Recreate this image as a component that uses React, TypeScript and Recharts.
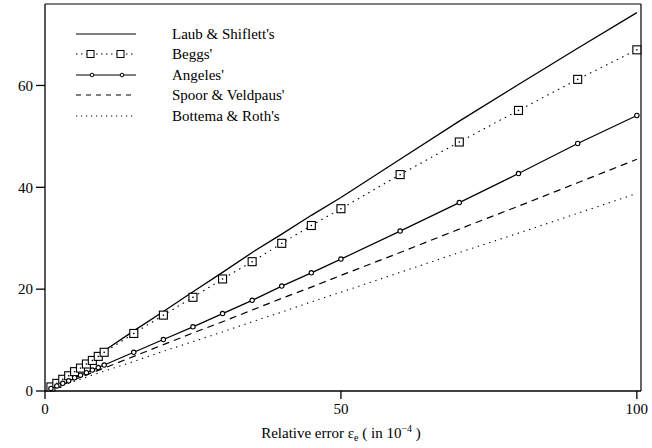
import React from 'react';
import {
  LineChart,
  Line,
  XAxis,
  YAxis,
  ReferenceLine,
} from 'recharts';

const xValues = [1, 2, 3, 4, 5, 6, 7, 8, 9, 10, 15, 20, 25, 30, 35, 40, 45, 50, 60, 70, 80, 90, 100];
const laub = [0.8, 1.6, 2.4, 3.2, 4.0, 4.8, 5.6, 6.4, 7.2, 7.9, 11.8, 15.6, 19.5, 23.3, 27.2, 30.8, 34.5, 38.0, 45.5, 53.0, 60.2, 67.3, 74.3];
const beggs = [0.8, 1.5, 2.3, 3.0, 3.8, 4.5, 5.3, 6.0, 6.8, 7.6, 11.3, 14.9, 18.4, 22.0, 25.4, 29.0, 32.5, 35.8, 42.5, 48.9, 55.1, 61.2, 67.0];
const angeles = [0.5, 1.0, 1.5, 2.0, 2.6, 3.1, 3.6, 4.1, 4.6, 5.1, 7.6, 10.1, 12.6, 15.2, 17.8, 20.6, 23.2, 25.9, 31.4, 37.0, 42.7, 48.6, 54.1];
const spoor = [0.45, 0.9, 1.35, 1.8, 2.25, 2.7, 3.15, 3.6, 4.05, 4.5, 6.8, 9.1, 11.4, 13.6, 15.9, 18.2, 20.4, 22.7, 27.2, 31.8, 36.3, 40.9, 45.5];
const bottema = [0.39, 0.78, 1.16, 1.55, 1.94, 2.33, 2.72, 3.1, 3.5, 3.9, 5.8, 7.8, 9.7, 11.6, 13.6, 15.5, 17.5, 19.4, 23.3, 27.2, 31.0, 34.9, 38.8];

const xTicks = [0, 50, 100];
const yTicks = [0, 20, 40, 60];
const seriesNames = ["Laub & Shiflett's", "Beggs'", "Angeles'", "Spoor & Veldpaus'", "Bottema & Roth's"];

const X_MAX = 100.7;
const Y_MAX = 76;

const data = xValues.map((x, i) => ({
  x,
  laub: laub[i],
  beggs: beggs[i],
  angeles: angeles[i],
  spoor: spoor[i],
  bottema: bottema[i],
}));

const FONT = '"Liberation Serif", "DejaVu Serif", serif';

const SquareDot = (props: any) => {
  const { cx, cy, index } = props;
  if (cx == null || cy == null) return null;
  return (
    <g key={`sq-${index}`}>
      <rect x={cx - 4} y={cy - 4} width={8} height={8} fill="#fff" stroke="#000" strokeWidth={1.1} />
      <rect x={cx - 0.7} y={cy - 0.7} width={1.4} height={1.4} fill="#000" />
    </g>
  );
};

const CircleDot = (props: any) => {
  const { cx, cy, index } = props;
  if (cx == null || cy == null) return null;
  return <circle key={`ci-${index}`} cx={cx} cy={cy} r={2.2} fill="#fff" stroke="#000" strokeWidth={1.1} />;
};

// legend drawn as an overlay so it does not take space from the plot
const LegendBox = () => {
  const rowY = [10, 30, 51, 71, 92];
  return (
    <svg width={260} height={104} style={{ display: 'block' }}>
      <line x1={6} x2={66} y1={rowY[0]} y2={rowY[0]} stroke="#000" strokeWidth={1.2} />
      <line x1={6} x2={66} y1={rowY[1]} y2={rowY[1]} stroke="#000" strokeWidth={1.1} strokeDasharray="1.5 3.5" />
      <rect x={17} y={rowY[1] - 3.5} width={7} height={7} fill="#fff" stroke="#000" strokeWidth={1} />
      <rect x={47} y={rowY[1] - 3.5} width={7} height={7} fill="#fff" stroke="#000" strokeWidth={1} />
      <line x1={6} x2={66} y1={rowY[2]} y2={rowY[2]} stroke="#000" strokeWidth={1.2} />
      <circle cx={22} cy={rowY[2]} r={1.8} fill="#fff" stroke="#000" strokeWidth={1} />
      <circle cx={52} cy={rowY[2]} r={1.8} fill="#fff" stroke="#000" strokeWidth={1} />
      <line x1={6} x2={66} y1={rowY[3]} y2={rowY[3]} stroke="#000" strokeWidth={1.1} strokeDasharray="5 5" />
      <line x1={6} x2={66} y1={rowY[4]} y2={rowY[4]} stroke="#000" strokeWidth={1.1} strokeDasharray="1.2 3.8" />
      {seriesNames.map((name, i) => (
        <text key={name} x={102} y={rowY[i] + 5} fontSize={15} fontFamily={FONT} fill="#000">
          {name}
        </text>
      ))}
    </svg>
  );
};

const XLabel = (props: any) => {
  const vb = props.viewBox || {};
  const cx = (vb.x || 0) + (vb.width || 0) / 2;
  const y = (vb.y || 0) + 47;
  return (
    <text x={cx - 2} y={y} textAnchor="middle" fontSize={15} fontFamily={FONT} fill="#000">
      Relative error ε
      <tspan fontSize={10} dy={3}>e</tspan>
      <tspan dy={-3}> ( in 10</tspan>
      <tspan fontSize={10} dy={-6}>−4</tspan>
      <tspan dy={6}> )</tspan>
    </text>
  );
};

export default function App() {
  return (
    <div style={{ position: 'absolute', left: 0, top: 0, width: 652, height: 448, background: '#fff' }}>
      <LineChart
        width={652}
        height={448}
        data={data}
        margin={{ top: 4, right: 11, bottom: 27, left: 0 }}
      >
        <XAxis
          dataKey="x"
          type="number"
          domain={[0, X_MAX]}
          ticks={xTicks}
          tickSize={8}
          tickMargin={4}
          height={30}
          stroke="#000"
          strokeWidth={1.3}
          tick={{ fill: '#000', fontSize: 15, fontFamily: FONT }}
          label={<XLabel />}
        />
        <YAxis
          type="number"
          domain={[0, Y_MAX]}
          ticks={yTicks}
          tickSize={9}
          tickMargin={3}
          width={45}
          stroke="#000"
          strokeWidth={1.3}
          tick={{ fill: '#000', fontSize: 15, fontFamily: FONT }}
        />
        <ReferenceLine y={Y_MAX} stroke="#000" strokeWidth={1.2} ifOverflow="visible" />
        <ReferenceLine x={X_MAX} stroke="#000" strokeWidth={1.2} ifOverflow="visible" />
        <Line
          dataKey="laub"
          stroke="#000"
          strokeWidth={1.3}
          dot={false}
          isAnimationActive={false}
        />
        <Line
          dataKey="beggs"
          stroke="#000"
          strokeWidth={1.1}
          strokeDasharray="1.5 4.5"
          dot={<SquareDot />}
          isAnimationActive={false}
        />
        <Line
          dataKey="angeles"
          stroke="#000"
          strokeWidth={1.2}
          dot={<CircleDot />}
          isAnimationActive={false}
        />
        <Line
          dataKey="spoor"
          stroke="#000"
          strokeWidth={1.2}
          strokeDasharray="7 5"
          dot={false}
          isAnimationActive={false}
        />
        <Line
          dataKey="bottema"
          stroke="#000"
          strokeWidth={1.1}
          strokeDasharray="1.3 4.7"
          dot={false}
          isAnimationActive={false}
        />
      </LineChart>
      <div style={{ position: 'absolute', left: 70, top: 24 }}>
        <LegendBox />
      </div>
    </div>
  );
}
